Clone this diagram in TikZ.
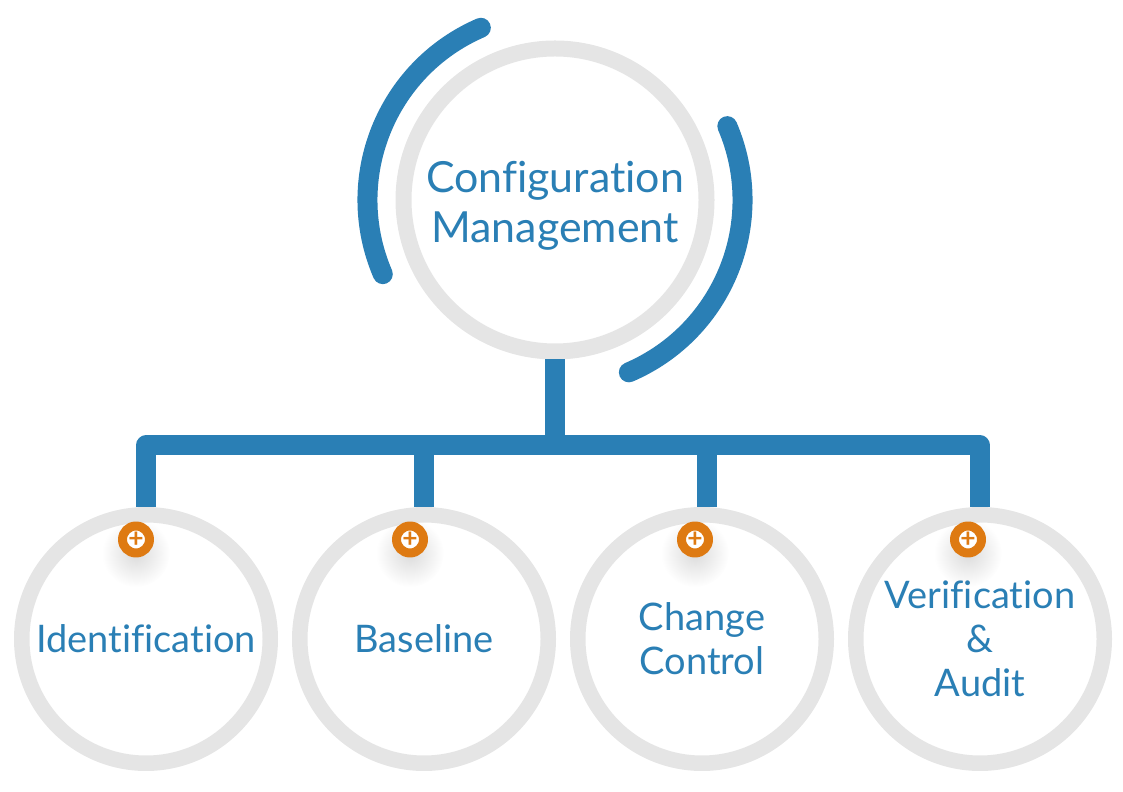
\documentclass[tikz,border=0pt]{standalone}
\usepackage{fontspec}
\setmainfont[Ligatures=NoCommon]{Lato}
\usetikzlibrary{shadows,fadings}
\definecolor{barblue}{HTML}{2A7FB5}
\definecolor{ringgray}{HTML}{E5E5E5}
\definecolor{badgeorange}{HTML}{DE7A12}
\tikzfading[name=softglow,inner color=transparent!72,outer color=transparent!100]

\begin{document}
\begin{tikzpicture}[line join=round,node distance=5.56cm]
  \tikzstyle{root}=[circle,draw=ringgray,fill=white,line width=0.32cm,minimum size=6.06cm,inner sep=0pt,
                    text=barblue,align=center,font=\fontsize{24.4}{28.4}\selectfont]
  \tikzstyle{leaf}=[circle,draw=ringgray,fill=white,line width=0.31cm,minimum size=4.97cm,inner sep=0pt,
                    text=barblue,align=center,font=\fontsize{21.6}{25}\selectfont]
  \tikzstyle{bar}=[draw=barblue,line width=0.4cm]
  \tikzstyle{swoosh}=[draw=barblue,line width=0.4cm,line cap=round]
  \tikzstyle{badge}=[circle,draw=badgeorange,fill=white,line width=0.18cm,minimum size=0.54cm,inner sep=0pt,
                     text=badgeorange,font=\bfseries\fontsize{15}{15}\selectfont,
                     circular drop shadow={shadow xshift=0cm,shadow yshift=-0.11cm,shadow scale=2.5,
                                           path fading=softglow}]

  \useasboundingbox (0,0) rectangle (22.46,15.82);

  \node[root] (config) at (11.1,11.82) {\rule{0pt}{0.86cm}Configuration\\Management};
  \node[leaf] (ident) at (2.92,3.04) {Identification};
  \node[leaf] (base) [right of=ident] {Baseline};
  \node[leaf] (change) [right of=base] {Change\\Control};
  \node[leaf] (verif) [right of=change] {Verification\\\&\\Audit};
  \coordinate (hub) at (11.1,6.91);

  \draw[bar] (config.south) -- (hub);
  \draw[bar] (ident.north) |- (hub) -| (verif.north);
  \draw[bar] (base.north) -- (base.north |- hub);
  \draw[bar] ([xshift=0.1cm]change.north) -- ([xshift=0.1cm]change.north |- hub);

  \draw[swoosh] ([shift={(113.3:3.75cm)}]config.center) arc (113.3:203.3:3.75cm);
  \draw[swoosh] ([shift={(23.2:3.75cm)}]config.center) arc (23.2:-66.8:3.75cm);

  \node[badge] (plusident) at (2.72,5.03) {+};
  \node[badge] (plusbase) at (8.2,5.03) {+};
  \node[badge] (pluschange) at (13.9,5.03) {+};
  \node[badge] (plusverif) at (19.36,5.03) {+};
\end{tikzpicture}
\end{document}
